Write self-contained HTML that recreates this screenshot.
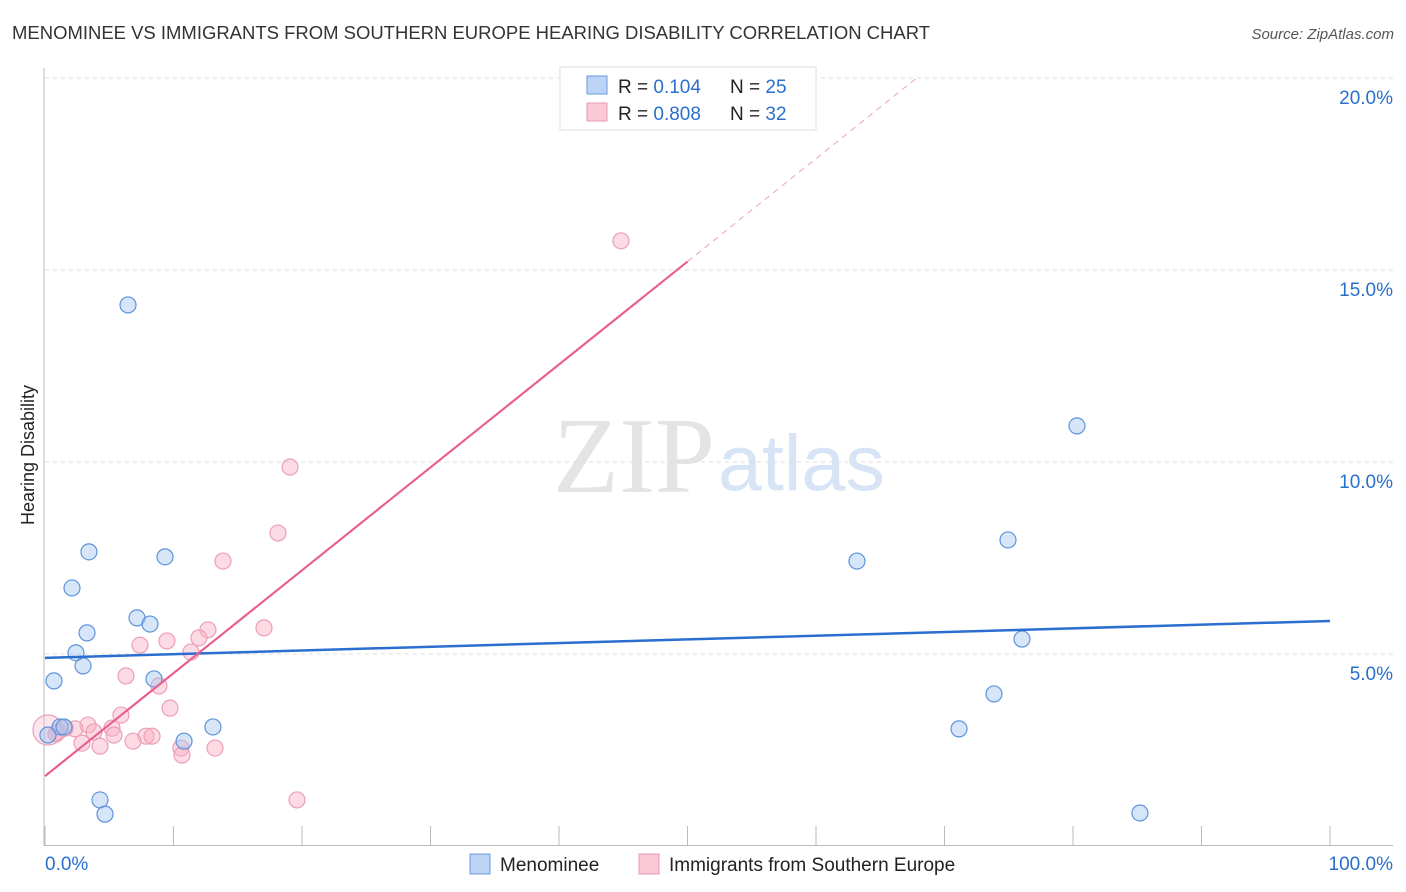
<!DOCTYPE html>
<html><head><meta charset="utf-8"><style>
body{margin:0;background:#fff;font-family:"Liberation Sans",sans-serif;}
svg{display:block}
</style></head><body>
<svg id="c" width="1406" height="892">
<text x="12" y="39" font-size="18" fill="#333" textLength="918" lengthAdjust="spacingAndGlyphs">MENOMINEE VS IMMIGRANTS FROM SOUTHERN EUROPE HEARING DISABILITY CORRELATION CHART</text>
<text x="1394" y="39" font-size="15" fill="#555" font-style="italic" text-anchor="end">Source: ZipAtlas.com</text>
<text x="553" y="492" font-size="108" fill="#e4e4e4" font-family="Liberation Serif,serif">ZIP</text>
<text x="718" y="490" font-size="79" fill="#d6e4f5">atlas</text>
<text transform="translate(34,455) rotate(-90)" font-size="18" fill="#222" text-anchor="middle">Hearing Disability</text>
<g id="grid"></g><g id="marks"></g>
<g>
<rect x="560" y="67" width="256" height="63" fill="#fff" stroke="#ddd"/>
<rect x="587" y="76" width="20" height="18" fill="#bcd4f5" stroke="#6a9ad8"/>
<rect x="587" y="103" width="20" height="18" fill="#fbc8d6" stroke="#e89ab0"/>
<text x="618" y="93" font-size="19" fill="#222">R = <tspan fill="#2a6fcc">0.104</tspan><tspan x="730">N = </tspan><tspan fill="#2a6fcc">25</tspan></text>
<text x="618" y="120" font-size="19" fill="#222">R = <tspan fill="#2a6fcc">0.808</tspan><tspan x="730">N = </tspan><tspan fill="#2a6fcc">32</tspan></text>
</g>
<g>
<rect x="470" y="854" width="20" height="20" fill="#bcd4f5" stroke="#6a9ad8"/>
<text x="500" y="871" font-size="19" fill="#222">Menominee</text>
<rect x="639" y="854" width="20" height="20" fill="#fbc8d6" stroke="#e89ab0"/>
<text x="669" y="871" font-size="19" fill="#222">Immigrants from Southern Europe</text>
</g>
</svg>
<script>
const yTicks=[5,10,15,20];
const yTickLabels=["5.0%","10.0%","15.0%","20.0%"];
const xTickLabels=["0.0%","100.0%"];
const blueX=[6.46,3.42,9.34,2.10,7.16,8.17,3.27,2.41,2.96,0.70,8.48,1.17,1.48,0.23,13.07,10.82,4.28,4.67,63.19,80.31,74.94,76.03,73.85,71.13,85.21];
const blueY=[14.09,7.66,7.53,6.72,5.94,5.78,5.55,5.03,4.69,4.30,4.35,3.10,3.10,2.89,3.10,2.73,1.20,0.83,7.42,10.94,7.97,5.39,3.96,3.05,0.86];
const pinkX=[44.82,19.07,18.13,13.85,17.04,12.68,11.98,9.49,7.39,11.36,8.87,6.30,9.73,5.91,3.35,5.21,2.33,1.56,1.01,0.23,3.81,5.37,7.86,8.33,6.85,2.88,4.28,10.58,13.23,10.66,19.61,0.86];
const pinkY=[15.76,9.87,8.15,7.42,5.68,5.63,5.42,5.34,5.23,5.05,4.17,4.43,3.59,3.41,3.15,3.07,3.05,3.07,2.97,3.02,2.97,2.89,2.86,2.86,2.73,2.68,2.60,2.55,2.55,2.37,1.20,2.92];
const pinkR=[8,8,8,8,8,8,8,8,8,8,8,8,8,8,8,8,8,8,8,15,8,8,8,8,8,8,8,8,8,8,8,8];
const blueLine=[4.90,5.86];
const pinkLine=[1.82,0.268];
const X=v=>45+v*12.85, Y=v=>846-v*38.4;
const NS="http://www.w3.org/2000/svg";
function mk(t,a,p){const e=document.createElementNS(NS,t);for(const k in a)e.setAttribute(k,a[k]);p.appendChild(e);return e;}
const g=document.getElementById('grid'),m=document.getElementById('marks');
yTicks.forEach((t,i)=>{
 const l=mk('line',{x1:45,x2:1393,y1:Y(t),y2:Y(t),stroke:'#ddd','stroke-dasharray':'4,4'},g);
 
 
 const tx=mk('text',{x:1393,y:Y(t)+26,'font-size':19,fill:'#2a6fcc','text-anchor':'end'},g);
 tx.textContent=yTickLabels[i];
 
 
});
const ax=mk('line',{x1:44,x2:44,y1:68,y2:846,stroke:'#bbb'},g);


const bx=mk('line',{x1:44,x2:1393,y1:845.5,y2:845.5,stroke:'#bbb'},g);


for(let i=0;i<=10;i++){const t=mk('line',{x1:X(i*10),x2:X(i*10),y1:826,y2:846,stroke:'#bbb'},g);
 
 }
[[0,'start',45],[100,'end',1393]].forEach((d,i)=>{const t=mk('text',{x:d[2],y:870,'font-size':19,fill:'#2a6fcc','text-anchor':d[1]},g);t.textContent=xTickLabels[i];
 
 });
pinkX.forEach((x,i)=>{const big=pinkR[i]>8;const c=mk('circle',{cx:X(x),cy:Y(pinkY[i]),r:pinkR[i],fill:big?'rgba(248,175,198,0.3)':'rgba(248,175,198,0.45)',stroke:'#eb9fb6','stroke-width':1.2},m);
 
 });
blueX.forEach((x,i)=>{const c=mk('circle',{cx:X(x),cy:Y(blueY[i]),r:8,fill:'rgba(165,198,240,0.45)',stroke:'#5d93dc','stroke-width':1.2},m);
 
 });
const bl=mk('line',{x1:X(0),y1:Y(blueLine[0]),x2:X(100),y2:Y(blueLine[1]),stroke:'#2a6fd0','stroke-width':2.5},m);


const pl=mk('line',{x1:X(0),y1:Y(pinkLine[0]),x2:X(50),y2:Y(pinkLine[0]+pinkLine[1]*50),stroke:'#e8608d','stroke-width':2.2},m);


const xe=(20-pinkLine[0])/pinkLine[1];
const pd=mk('line',{x1:X(50),y1:Y(pinkLine[0]+pinkLine[1]*50),x2:X(xe),y2:Y(20),stroke:'#eaa0b8','stroke-width':1,'stroke-dasharray':'6,5'},m);


</script>
</body></html>
